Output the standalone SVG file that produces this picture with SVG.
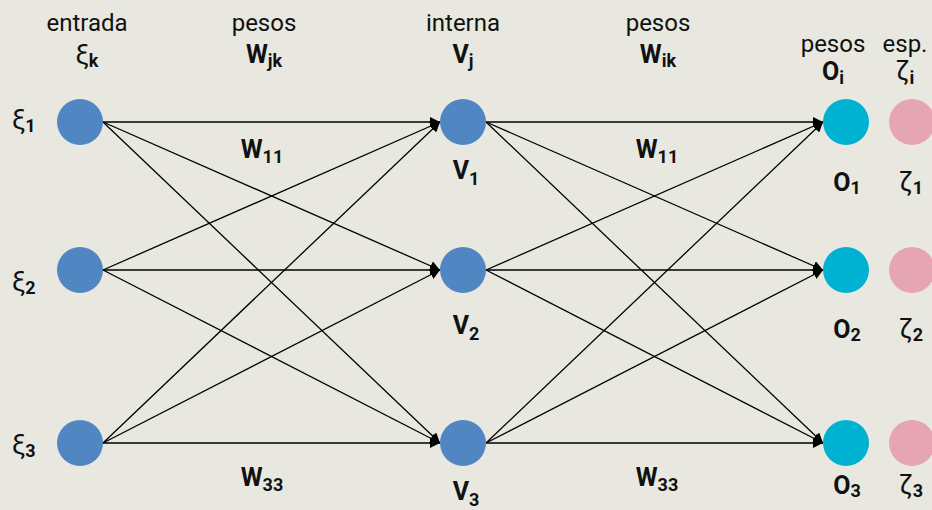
<svg xmlns="http://www.w3.org/2000/svg" width="932" height="510" viewBox="0 0 932 510">
<defs>
<marker id="ah" viewBox="0 0 10 10" refX="10" refY="5" markerWidth="10" markerHeight="10" markerUnits="userSpaceOnUse" orient="auto">
<path d="M0,0 L10,5 L0,10 z" fill="#000"/>
</marker>
<style>
text{font-family:"Liberation Sans Narrow","Roboto","Liberation Sans",sans-serif;fill:#111;}
.h{font-size:24px;text-anchor:middle;}
.gk{font-size:27px;text-anchor:middle;}
.b{font-size:25px;font-weight:bold;text-anchor:middle;}
.s{font-size:18px;font-weight:bold;}
.g{font-size:27px;}
.e{stroke:#000;stroke-width:1.3;fill:none;marker-end:url(#ah);}
.in{fill:#5086C1;}
.out{fill:#00B2D2;}
.exp{fill:#E6A5B4;}
</style>
</defs>
<rect width="932" height="510" fill="#E8E8E0"/>
<g id="headers">
<text class="h" x="87" y="31">entrada</text>
<text class="gk" x="87" y="64">ξ<tspan class="s" dy="3">k</tspan></text>
<text class="h" x="264" y="31">pesos</text>
<text class="b" x="264" y="63">W<tspan class="s" dy="4">jk</tspan></text>
<text class="h" x="463" y="31">interna</text>
<text class="b" x="463" y="63">V<tspan class="s" dy="4">j</tspan></text>
<text class="h" x="658" y="31">pesos</text>
<text class="b" x="658" y="63">W<tspan class="s" dy="4">ik</tspan></text>
<text class="h" x="833" y="52">pesos</text>
<text class="h" x="905" y="52">esp.</text>
<text class="b" x="833" y="80">O<tspan class="s" dy="4">i</tspan></text>
<text class="gk" x="905" y="80">ζ<tspan class="s" dy="4">i</tspan></text>
</g>
<g id="connectors">
<path class="e" d="M103,122 L440,122"/>
<path class="e" d="M103,122 L440,270"/>
<path class="e" d="M103,122 L440,443"/>
<path class="e" d="M103,270 L440,122"/>
<path class="e" d="M103,270 L440,270"/>
<path class="e" d="M103,270 L440,443"/>
<path class="e" d="M103,443 L440,122"/>
<path class="e" d="M103,443 L440,270"/>
<path class="e" d="M103,443 L440,443"/>
<path class="e" d="M486,122 L823,122"/>
<path class="e" d="M486,122 L823,270"/>
<path class="e" d="M486,122 L823,443"/>
<path class="e" d="M486,270 L823,122"/>
<path class="e" d="M486,270 L823,270"/>
<path class="e" d="M486,270 L823,443"/>
<path class="e" d="M486,443 L823,122"/>
<path class="e" d="M486,443 L823,270"/>
<path class="e" d="M486,443 L823,443"/>
</g>
<g id="weight-labels">
<text class="b" x="262" y="158">W<tspan class="s" dy="5">11</tspan></text>
<text class="b" x="657" y="158">W<tspan class="s" dy="5">11</tspan></text>
<text class="b" x="262" y="486">W<tspan class="s" dy="5">33</tspan></text>
<text class="b" x="657" y="486">W<tspan class="s" dy="5">33</tspan></text>
</g>
<g id="x1"><circle class="in" cx="80" cy="122" r="23"/><text class="g" x="12" y="129">ξ<tspan class="s" dy="3">1</tspan></text></g>
<g id="x2"><circle class="in" cx="80" cy="270" r="23"/><text class="g" x="12" y="291">ξ<tspan class="s" dy="3">2</tspan></text></g>
<g id="x3"><circle class="in" cx="80" cy="443" r="23"/><text class="g" x="12" y="454">ξ<tspan class="s" dy="3">3</tspan></text></g>
<g id="v1"><circle class="in" cx="463" cy="122" r="23"/><text class="b" x="466" y="179">V<tspan class="s" dy="6">1</tspan></text></g>
<g id="v2"><circle class="in" cx="463" cy="270" r="23"/><text class="b" x="466" y="334">V<tspan class="s" dy="6">2</tspan></text></g>
<g id="v3"><circle class="in" cx="463" cy="443" r="23"/><text class="b" x="466" y="500">V<tspan class="s" dy="6">3</tspan></text></g>
<g id="o1"><circle class="out" cx="846" cy="122" r="23"/><text class="b" x="847" y="191">O<tspan class="s" dy="3">1</tspan></text></g>
<g id="o2"><circle class="out" cx="846" cy="270" r="23"/><text class="b" x="847" y="338">O<tspan class="s" dy="3">2</tspan></text></g>
<g id="o3"><circle class="out" cx="846" cy="443" r="23"/><text class="b" x="847" y="494">O<tspan class="s" dy="3">3</tspan></text></g>
<g id="z1"><circle class="exp" cx="912" cy="122" r="23"/><text class="gk" x="911" y="191">ζ<tspan class="s" dy="3">1</tspan></text></g>
<g id="z2"><circle class="exp" cx="912" cy="270" r="23"/><text class="gk" x="911" y="338">ζ<tspan class="s" dy="3">2</tspan></text></g>
<g id="z3"><circle class="exp" cx="912" cy="443" r="23"/><text class="gk" x="911" y="494">ζ<tspan class="s" dy="3">3</tspan></text></g>
</svg>
